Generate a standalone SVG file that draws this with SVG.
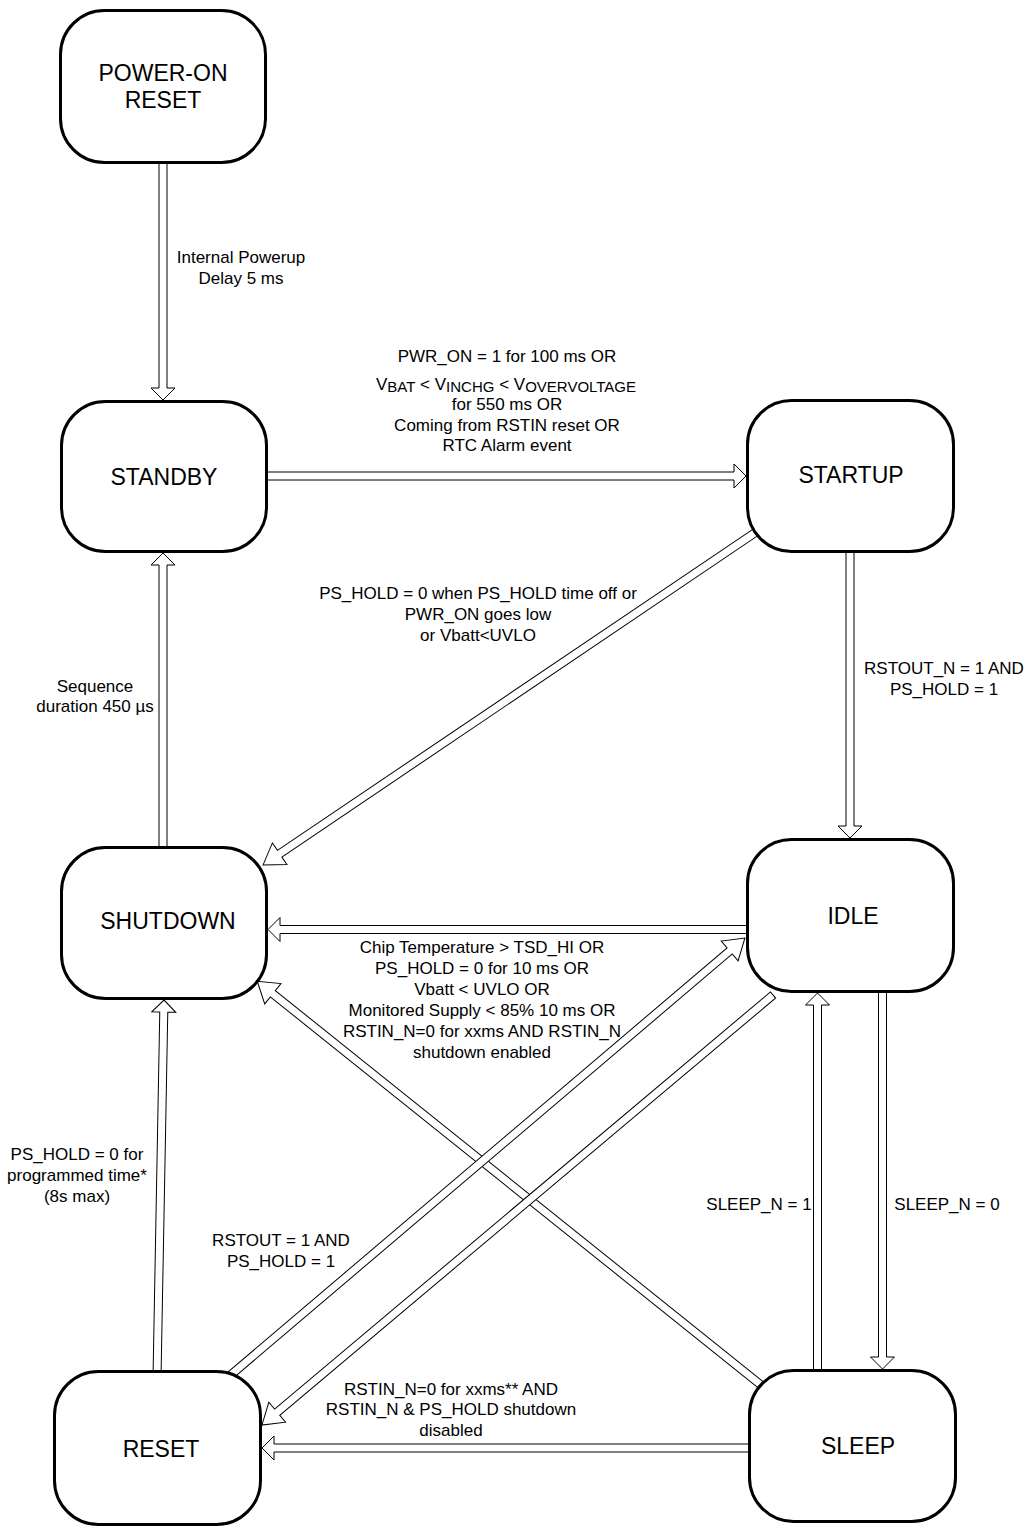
<svg xmlns="http://www.w3.org/2000/svg" width="1030" height="1529" viewBox="0 0 1030 1529">
<style>
.node{fill:#fff;stroke:#000;stroke-width:3}
.arr{fill:#fff;stroke:#000;stroke-width:1;stroke-linejoin:miter}
.nt{font-family:"Liberation Sans",Arial,sans-serif;font-size:23px;text-anchor:middle;fill:#000}
.et{font-family:"Liberation Sans",Arial,sans-serif;font-size:17px;text-anchor:middle;fill:#000}
.sub{font-size:15px}
</style>
<rect width="1030" height="1529" fill="#fff"/>
<g id="connectors">
<path class="arr" transform="translate(163,150) rotate(90)" d="M0,-4 H238 V-12 L250,0 L238,12 V4 H0 Z"/>
<path class="arr" transform="translate(262,476) rotate(0)" d="M0,-4 H472 V-12 L484,0 L472,12 V4 H0 Z"/>
<path class="arr" transform="translate(163,852) rotate(-90)" d="M0,-4 H287 V-12 L299,0 L287,12 V4 H0 Z"/>
<path class="arr" transform="translate(762,528) rotate(145.97)" d="M0,-4 H582 V-13 L602,0 L582,13 V4 H0 Z"/>
<path class="arr" transform="translate(850,548) rotate(90)" d="M0,-4 H278 V-12 L290,0 L278,12 V4 H0 Z"/>
<path class="arr" transform="translate(750,929.5) rotate(180)" d="M0,-4 H470 V-12 L482,0 L470,12 V4 H0 Z"/>
<path class="arr" transform="translate(766,1389) rotate(-141.29)" d="M0,-4 H632 V-13 L652,0 L632,13 V4 H0 Z"/>
<path class="arr" transform="translate(773,995) rotate(139.92)" d="M0,-4 H648 V-13 L668,0 L648,13 V4 H0 Z"/>
<path class="arr" transform="translate(226,1379) rotate(-40.36)" d="M0,-4 H661 V-13 L681,0 L661,13 V4 H0 Z"/>
<path class="arr" transform="translate(157,1378) rotate(-88.94)" d="M0,-4 H366 V-12 L378,0 L366,12 V4 H0 Z"/>
<path class="arr" transform="translate(752,1448) rotate(180)" d="M0,-4 H478 V-12 L490,0 L478,12 V4 H0 Z"/>
<path class="arr" transform="translate(817.5,1373) rotate(-90)" d="M0,-4 H368 V-12 L380,0 L368,12 V4 H0 Z"/>
<path class="arr" transform="translate(882.5,990) rotate(90)" d="M0,-4 H367 V-12 L379,0 L367,12 V4 H0 Z"/>
</g>
<g id="edge-labels">
<text class="et" x="241" y="263">Internal Powerup</text>
<text class="et" x="241" y="284">Delay 5 ms</text>
<text class="et" x="507" y="362">PWR_ON = 1 for 100 ms OR</text>
<text class="et" x="506" y="390">V<tspan class="sub" dy="2">BAT</tspan><tspan dy="-2"> &lt; V</tspan><tspan class="sub" dy="2">INCHG</tspan><tspan dy="-2"> &lt; V</tspan><tspan class="sub" dy="2">OVERVOLTAGE</tspan></text>
<text class="et" x="507" y="410">for 550 ms OR</text>
<text class="et" x="507" y="431">Coming from RSTIN reset OR</text>
<text class="et" x="507" y="451">RTC Alarm event</text>
<text class="et" x="478" y="599">PS_HOLD = 0 when PS_HOLD time off or</text>
<text class="et" x="478" y="620">PWR_ON goes low</text>
<text class="et" x="478" y="641">or Vbatt&lt;UVLO</text>
<text class="et" x="95" y="692">Sequence</text>
<text class="et" x="95" y="712">duration 450 µs</text>
<text class="et" x="944" y="674">RSTOUT_N = 1 AND</text>
<text class="et" x="944" y="695">PS_HOLD = 1</text>
<text class="et" x="482" y="953">Chip Temperature &gt; TSD_HI OR</text>
<text class="et" x="482" y="974">PS_HOLD = 0 for 10 ms OR</text>
<text class="et" x="482" y="995">Vbatt &lt; UVLO OR</text>
<text class="et" x="482" y="1016">Monitored Supply &lt; 85% 10 ms OR</text>
<text class="et" x="482" y="1037">RSTIN_N=0 for xxms AND RSTIN_N</text>
<text class="et" x="482" y="1058">shutdown enabled</text>
<text class="et" x="77" y="1160">PS_HOLD = 0 for</text>
<text class="et" x="77" y="1181">programmed time*</text>
<text class="et" x="77" y="1202">(8s max)</text>
<text class="et" x="281" y="1246">RSTOUT = 1 AND</text>
<text class="et" x="281" y="1267">PS_HOLD = 1</text>
<text class="et" x="759" y="1210">SLEEP_N = 1</text>
<text class="et" x="947" y="1210">SLEEP_N = 0</text>
<text class="et" x="451" y="1395">RSTIN_N=0 for xxms** AND</text>
<text class="et" x="451" y="1415">RSTIN_N &amp; PS_HOLD shutdown</text>
<text class="et" x="451" y="1436">disabled</text>
</g>
<g id="por"><rect class="node" x="60.5" y="10.5" width="205" height="152" rx="44"/><text class="nt" x="163" y="81">POWER-ON</text><text class="nt" x="163" y="108">RESET</text></g>
<g id="standby"><rect class="node" x="61.5" y="401.5" width="205" height="150" rx="44"/><text class="nt" x="164" y="485">STANDBY</text></g>
<g id="startup"><rect class="node" x="747.5" y="400.5" width="206" height="151" rx="44"/><text class="nt" x="851" y="483">STARTUP</text></g>
<g id="shutdown"><rect class="node" x="61.5" y="847.5" width="205" height="151" rx="44"/><text class="nt" x="168" y="929">SHUTDOWN</text></g>
<g id="idle"><rect class="node" x="747.5" y="839.5" width="206" height="152" rx="44"/><text class="nt" x="853" y="924">IDLE</text></g>
<g id="reset"><rect class="node" x="54.5" y="1371.5" width="206" height="153" rx="44"/><text class="nt" x="161" y="1457">RESET</text></g>
<g id="sleep"><rect class="node" x="749.5" y="1370.5" width="206" height="151" rx="44"/><text class="nt" x="858" y="1454">SLEEP</text></g>
</svg>
